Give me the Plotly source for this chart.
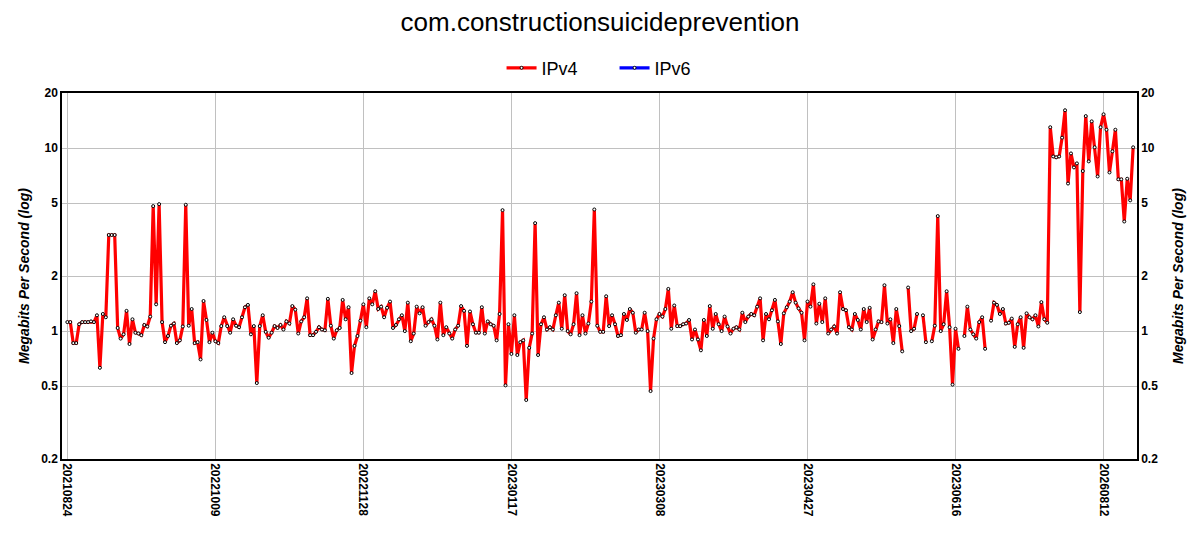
import plotly.graph_objects as go

# Tageswerte (Index 0..360), None = Luecke in den Daten
ipv4_mbps = [
    1.12, 1.12, 0.86, 0.86, 1.09, 1.12, 1.12, 1.12, 1.13, 1.12,
    1.22, 0.63, 1.24, 1.19, 3.35, 3.35, 3.35, 1.04, 0.91, 0.96,
    1.29, 0.85, 1.16, 0.98, 0.97, 0.95, 1.08, 1.06, 1.20, 4.82,
    1.40, 4.94, 1.12, 0.87, 0.94, 1.07, 1.10, 0.86, 0.89, 1.06,
    4.90, 1.07, 1.32, 0.86, 0.87, 0.70, 1.46, 1.15, 0.87, 0.98,
    0.88, 0.86, 1.065, 1.19, 1.065, 0.98, 1.16, 1.07, 1.05, 1.19,
    1.35, 1.39, 0.96, 1.065, 0.52, 1.065, 1.22, 0.99, 0.92, 0.98,
    1.065, 1.04, 1.08, 1.02, 1.13, 1.10, 1.37, 1.31, 0.97, 1.13,
    1.19, 1.51, 0.95, 0.95, 0.99, 1.05, 1.02, 1.01, 1.50, 1.07,
    0.91, 1.01, 1.04, 1.48, 1.16, 1.35, 0.59, 0.83, 0.94, 1.14,
    1.40, 1.05, 1.51, 1.40, 1.65, 1.32, 1.36, 1.19, 1.34, 1.45,
    1.04, 1.08, 1.16, 1.22, 1.00, 1.43, 0.88, 0.97, 1.36, 1.25,
    1.35, 1.07, 1.12, 1.16, 1.07, 0.90, 1.43, 0.95, 1.05, 0.97,
    0.91, 1.02, 1.07, 1.37, 1.29, 0.83, 1.28, 1.09, 0.98, 0.98,
    1.35, 0.97, 1.13, 1.09, 1.07, 0.89, 1.24, 4.58, 0.505, 1.09,
    0.75, 1.22, 0.74, 0.87, 0.89, 0.42, 0.81, 0.97, 3.89, 0.74,
    1.09, 1.19, 1.02, 1.05, 1.02, 1.22, 1.43, 1.03, 1.57, 1.00,
    0.96, 1.09, 1.61, 0.95, 1.22, 0.97, 1.10, 1.45, 4.62, 1.07,
    0.99, 0.99, 1.55, 1.065, 1.22, 1.09, 0.94, 0.95, 1.24, 1.15,
    1.32, 1.26, 0.98, 1.02, 1.02, 1.26, 1.00, 0.47, 0.91, 1.16,
    1.24, 1.20, 1.32, 1.70, 1.03, 1.38, 1.065, 1.065, 1.09, 1.10,
    1.15, 0.90, 1.02, 0.90, 0.785, 1.15, 0.94, 1.37, 1.03, 1.24,
    1.09, 1.00, 1.20, 1.06, 0.97, 1.03, 1.05, 1.02, 1.26, 1.12,
    1.20, 1.24, 1.22, 1.36, 1.51, 0.89, 1.24, 1.16, 1.30, 1.48,
    1.13, 0.85, 1.25, 1.35, 1.45, 1.63, 1.43, 1.33, 1.26, 0.89,
    1.45, 1.36, 1.80, 1.10, 1.41, 1.12, 1.51, 0.97, 1.02, 1.06,
    0.97, 1.63, 1.32, 1.30, 1.05, 1.02, 1.24, 1.15, 1.02, 1.32,
    1.12, 1.34, 0.90, 1.02, 1.13, 1.12, 1.78, 1.10, 1.16, 0.86,
    1.32, 1.065, 0.775, None, 1.73, 1.00, 1.03, 1.24, None, 1.22,
    0.87, None, 0.88, 1.07, 4.25, 1.00, 1.09, 1.65, 1.05, 0.51,
    1.03, 0.80, None, 0.94, 1.36, 1.02, 0.96, 0.91, 1.12, 1.19,
    0.80, None, 1.14, 1.43, 1.39, 1.24, 1.32, 1.10, 1.11, 1.17,
    0.82, 1.09, 1.19, 0.81, 1.25, 1.19, 1.16, 1.22, 1.06, 1.44,
    1.16, 1.11, 13.0, 9.0, 8.9, 9.0, 11.4, 16.1, 6.4, 9.35,
    7.84, 8.25, 1.27, 7.49, 14.96, 8.46, 14.0, 10.1, 7.0, 13.0,
    15.3, 12.6, 7.36, 9.6, 12.6, 6.75, 6.75, 3.97, 6.8, 5.18,
    10.1,
]
ipv6_mbps = [None] * len(ipv4_mbps)
tage = list(range(len(ipv4_mbps)))

x_tickpos = [0, 50, 100, 150, 200, 250, 300, 350]
x_ticklabels = ['20210824', '20221009', '20221128', '20230117',
                '20230308', '20230427', '20230616', '20260812']
y_ticks = [0.2, 0.5, 1, 2, 5, 10, 20]

punkt = dict(size=3, color='white', line=dict(color='black', width=1))

fig = go.Figure()
fig.add_trace(go.Scatter(
    x=tage, y=ipv4_mbps, mode='lines+markers', name='IPv4',
    line=dict(color='#ff0000', width=3.2), marker=punkt,
))
fig.add_trace(go.Scatter(
    x=tage, y=ipv6_mbps, mode='lines+markers', name='IPv6', yaxis='y2',
    line=dict(color='#0000ff', width=3.2), marker=punkt,
    showlegend=True,
))

achse_y = dict(
    type='log', range=[-0.69897, 1.30103],
    tickvals=y_ticks, ticktext=[str(v) for v in y_ticks],
    tickfont=dict(family='Liberation Sans', size=12, color='black', weight='bold'),
    showgrid=True, gridcolor='#c0c0c0', gridwidth=1,
    showline=True, linecolor='black', linewidth=1.5,
    ticks='', zeroline=False, automargin=False,
    title=dict(text='<b><i>Megabits Per Second (log)</i></b>', standoff=8,
               font=dict(family='Liberation Sans', size=14, color='black')),
)
achse_y2 = dict(achse_y, overlaying='y', side='right', showgrid=False)
achse_y2['title'] = dict(achse_y['title'], standoff=16)

# Seite hat 8px Body-Rand -> Figur etwas kleiner, Raender entsprechend
fig.update_layout(
    width=1184, height=534,
    paper_bgcolor='white', plot_bgcolor='white',
    margin=dict(l=54, r=55, t=85, b=83),
    title=dict(text='com.constructionsuicideprevention', x=0.5, xanchor='center',
               y=0.974, yanchor='middle',
               font=dict(family='Liberation Sans', size=26, color='black')),
    legend=dict(orientation='h', x=0.514, xanchor='center', y=1.068, yanchor='middle',
                font=dict(family='Liberation Sans', size=18, color='black'),
                itemwidth=30, entrywidth=68),
    xaxis=dict(
        range=[-1.8, 361.3], tickvals=x_tickpos, ticktext=x_ticklabels,
        tickangle=90, ticks='', automargin=False,
        tickfont=dict(family='Liberation Sans', size=12, color='black', weight='bold'),
        showgrid=True, gridcolor='#c0c0c0', gridwidth=1,
        showline=True, linecolor='black', linewidth=1.5, mirror=True,
        zeroline=False,
    ),
    yaxis=achse_y,
    yaxis2=achse_y2,
    showlegend=True,
    hovermode='closest',
)

fig.write_html("out.html")
